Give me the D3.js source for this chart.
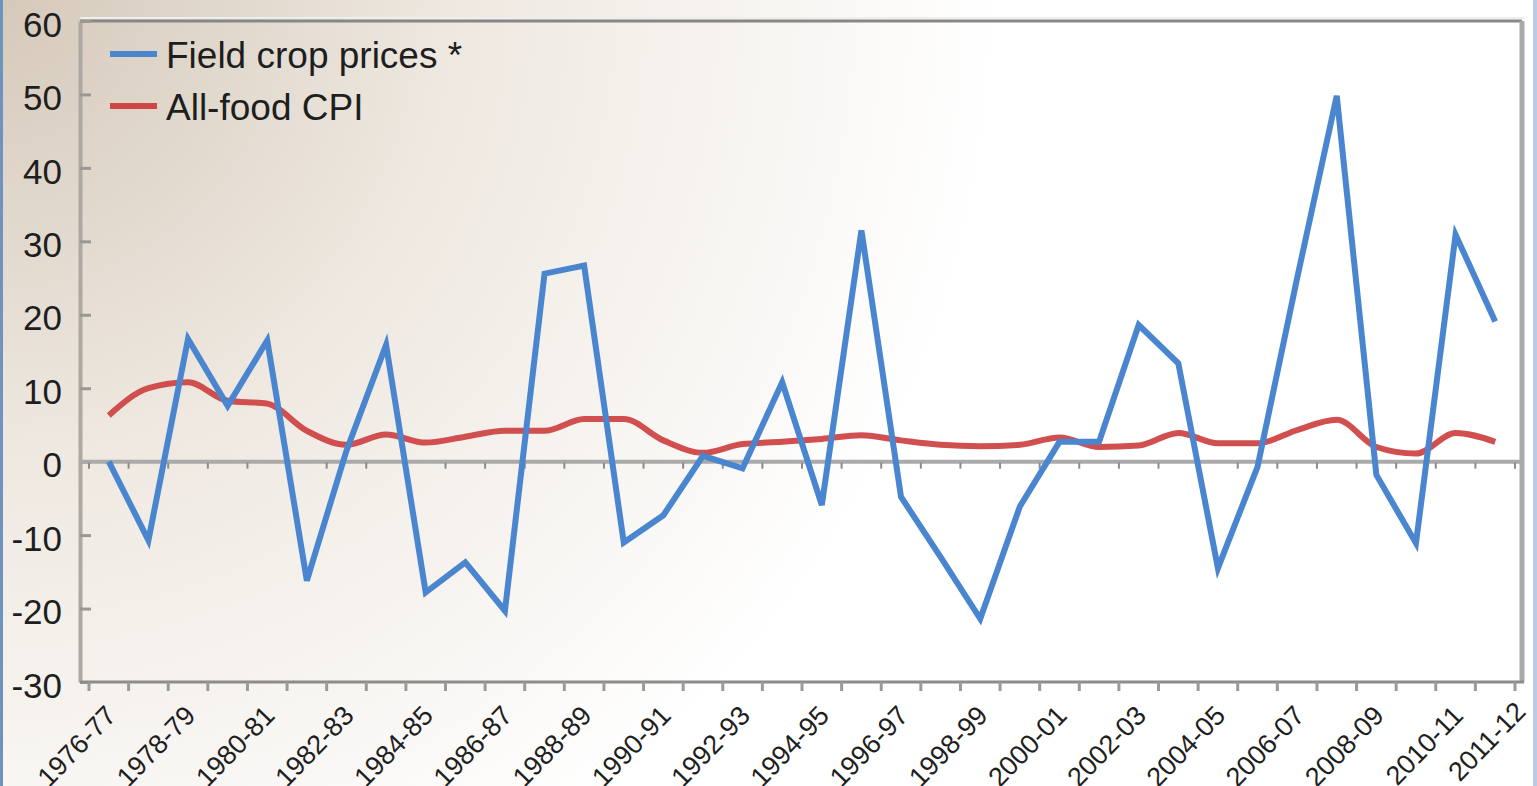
<!DOCTYPE html>
<html>
<head>
<meta charset="utf-8">
<script src="https://cdn.jsdelivr.net/npm/d3@7"></script>
<style>
  html, body { margin: 0; padding: 0; background: #fff; }
  svg { display: block; }
  text { font-family: "Liberation Sans", Arial, Helvetica, sans-serif; fill: #1e1e1e; }
</style>
</head>
<body>
<svg id="chart" width="1537" height="786"></svg>
<script>
// ---- Data ----
const categories = [
  "1976-77","1977-78","1978-79","1979-80","1980-81","1981-82","1982-83","1983-84",
  "1984-85","1985-86","1986-87","1987-88","1988-89","1989-90","1990-91","1991-92",
  "1992-93","1993-94","1994-95","1995-96","1996-97","1997-98","1998-99","1999-00",
  "2000-01","2001-02","2002-03","2003-04","2004-05","2005-06","2006-07","2007-08",
  "2008-09","2009-10","2010-11","2011-12"
];
const fieldCropPrices = [
  0, -10.7, 16.7, 7.6, 16.5, -16.2, 1.5, 15.9,
  -17.8, -13.7, -20.3, 25.6, 26.7, -11, -7.3, 0.8,
  -0.9, 10.8, -5.9, 31.5, -4.8, -13, -21.4, -6.1,
  2.7, 2.7, 18.6, 13.4, -14.5, -0.7, 25, 49.8,
  -1.8, -11.1, 30.9, 19.1
];
const allFoodCPI = [
  6.3, 10, 10.8, 8.3, 7.9, 4.2, 2.3, 3.7,
  2.6, 3.4, 4.2, 4.2, 5.8, 5.8, 2.9, 1.2,
  2.4, 2.7, 3.1, 3.6, 2.9, 2.3, 2.1, 2.3,
  3.3, 2.0, 2.2, 3.9, 2.5, 2.5, 4.3, 5.7,
  2.0, 1.1, 3.9, 2.7
];
const yTicks = [-30, -20, -10, 0, 10, 20, 30, 40, 50, 60];
const labelledCategories = [
  "1976-77","1978-79","1980-81","1982-83","1984-85","1986-87","1988-89","1990-91",
  "1992-93","1994-95","1996-97","1998-99","2000-01","2002-03","2004-05","2006-07",
  "2008-09","2010-11","2011-12"
];
const seriesNames = ["Field crop prices *", "All-food CPI"];
const seriesColors = ["#4a86cf", "#cf4646"];

// ---- Layout ----
const svg = d3.select("#chart");
const W = 1537, H = 786;
const plot = { left: 80, right: 1522, top: 21, bottom: 682 };

// background gradient
const defs = svg.append("defs");
const rg = defs.append("radialGradient")
  .attr("id", "bg").attr("gradientUnits", "userSpaceOnUse")
  .attr("cx", 0).attr("cy", 0).attr("r", 1000);
rg.append("stop").attr("offset", "0%").attr("stop-color", "#d5c9ba");
rg.append("stop").attr("offset", "45%").attr("stop-color", "#eee8e0");
rg.append("stop").attr("offset", "100%").attr("stop-color", "#ffffff");
svg.append("rect").attr("width", W).attr("height", H).attr("fill", "url(#bg)");

// outer blue edges
svg.append("rect").attr("x", 0).attr("y", 0).attr("width", 3).attr("height", H).attr("fill", "#6f93bf");
svg.append("rect").attr("x", 1533).attr("y", 0).attr("width", 4).attr("height", H).attr("fill", "#b8cde4");

// ---- Scales ----
const x = d3.scaleBand().domain(categories).range([89, 1515]).padding(0);
const y = d3.scaleLinear().domain([-30, 60]).range([plot.bottom, plot.top]);
const cx = c => x(c) + x.bandwidth() / 2;

// frame
svg.append("line").attr("x1", plot.left).attr("x2", plot.right + 2)
  .attr("y1", plot.top - 3).attr("y2", plot.top - 3).attr("stroke", "#eeeeee").attr("stroke-width", 2);
svg.append("line").attr("x1", plot.left).attr("x2", plot.right)
  .attr("y1", plot.top).attr("y2", plot.top).attr("stroke", "#878787").attr("stroke-width", 3);
svg.append("line").attr("x1", plot.right).attr("x2", plot.right)
  .attr("y1", plot.top).attr("y2", plot.bottom).attr("stroke", "#a9a9a9").attr("stroke-width", 5);

// y axis
const yAxis = d3.axisLeft(y).tickValues(yTicks).tickFormat(d => String(d))
  .tickSizeInner(-11).tickSizeOuter(0).tickPadding(18);
const gy = svg.append("g").attr("transform", `translate(${plot.left},0)`).call(yAxis);
gy.select(".domain").attr("stroke", "#aca8a2").attr("stroke-width", 4);
gy.selectAll(".tick line").attr("stroke", "#9a9895").attr("stroke-width", 3);
gy.selectAll(".tick text")
  .attr("font-size", 35).attr("fill", "#1e1e1e")
  .attr("dy", "0.32em").attr("transform", "translate(0,4)")
  .style("font-family", "'Liberation Sans', Arial, sans-serif");

// zero line
svg.append("line").attr("x1", plot.left).attr("x2", plot.right)
  .attr("y1", y(0)).attr("y2", y(0)).attr("stroke", "#aaaaaa").attr("stroke-width", 4);

// x axis line
svg.append("line").attr("x1", plot.left).attr("x2", plot.right + 2)
  .attr("y1", plot.bottom).attr("y2", plot.bottom).attr("stroke", "#8c8c8c").attr("stroke-width", 3);

// tick boundaries
const boundaries = categories.map(c => x(c)).concat([x.range()[1]]);
svg.append("g").selectAll("line.xt").data(boundaries).join("line")
  .attr("x1", d => d).attr("x2", d => d)
  .attr("y1", plot.bottom).attr("y2", plot.bottom + 9)
  .attr("stroke", "#9a9a9a").attr("stroke-width", 3);
svg.append("g").selectAll("line.zt").data(boundaries).join("line")
  .attr("x1", d => d).attr("x2", d => d)
  .attr("y1", y(0) + 1).attr("y2", y(0) + 7)
  .attr("stroke", "#8a8a8a").attr("stroke-width", 2);

// x labels
svg.append("g").selectAll("text.xl").data(labelledCategories).join("text")
  .attr("text-anchor", "end")
  .attr("font-size", 27)
  .attr("transform", (d, i) => {
    const last = i === labelledCategories.length - 1;
    const px = cx(d) + (last ? 32 : 9);
    const py = last ? 713 : 717;
    return `translate(${px},${py}) rotate(-46)`;
  })
  .text(d => d);

// ---- Lines ----
const blueLine = d3.line().x((d, i) => cx(categories[i])).y(d => y(d)).curve(d3.curveLinear);
const redLine = d3.line().x((d, i) => cx(categories[i])).y(d => y(d)).curve(d3.curveMonotoneX);

svg.append("path").datum(allFoodCPI).attr("d", redLine)
  .attr("fill", "none").attr("stroke", seriesColors[1]).attr("stroke-width", 6)
  .attr("stroke-linejoin", "round").attr("stroke-opacity", 0.95);
svg.append("path").datum(fieldCropPrices).attr("d", blueLine)
  .attr("fill", "none").attr("stroke", seriesColors[0]).attr("stroke-width", 6)
  .attr("stroke-linejoin", "miter");

// ---- Legend ----
const legend = svg.append("g");
seriesNames.forEach((name, i) => {
  const ly = 54 + i * 52;
  legend.append("line").attr("x1", 110).attr("x2", 157).attr("y1", ly).attr("y2", ly)
    .attr("stroke", seriesColors[i]).attr("stroke-width", 6);
  legend.append("text").attr("x", 166).attr("y", ly + 14)
    .attr("font-size", 37).text(name);
});
</script>
</body>
</html>
